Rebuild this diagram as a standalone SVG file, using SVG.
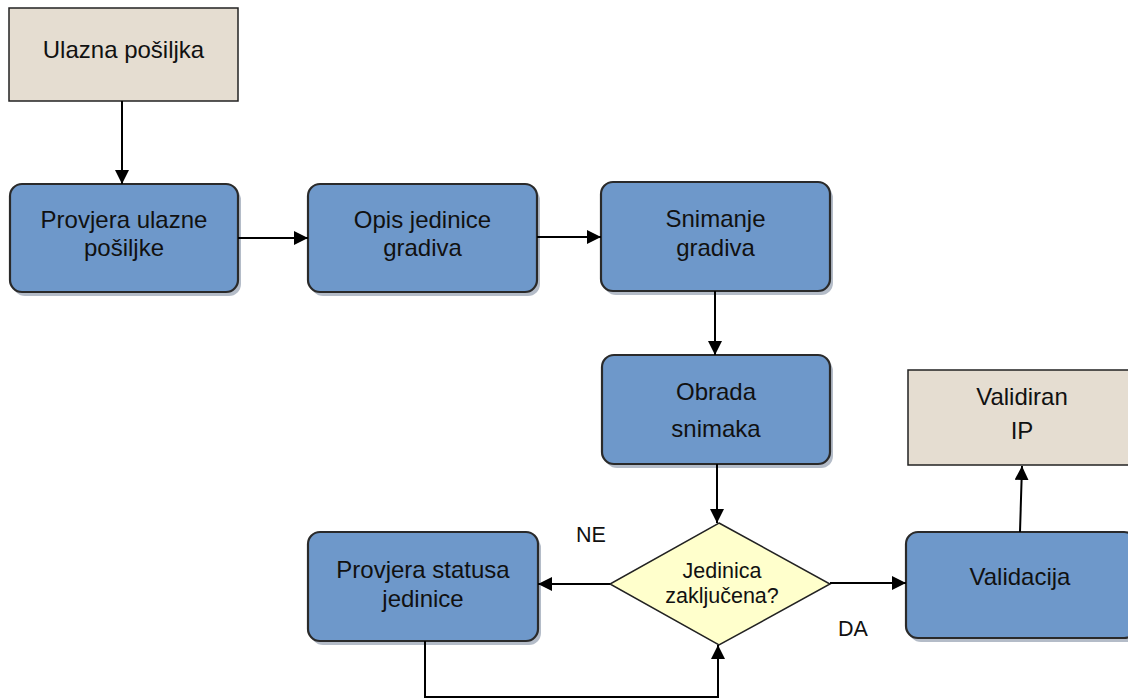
<svg xmlns="http://www.w3.org/2000/svg" width="1128" height="700" viewBox="0 0 1128 700">
  <defs>
    <marker id="arrow" viewBox="0 0 14 14" refX="14" refY="7" markerWidth="14" markerHeight="14" markerUnits="userSpaceOnUse" orient="auto">
      <path d="M0,0 L14,7 L0,14 Z" fill="#000"/>
    </marker>
  </defs>
  <style>
    .doc { fill: #E5DDD1; stroke: #222; stroke-width: 1.5; }
    .proc { fill: #6E98CA; stroke: #2a2a2a; stroke-width: 2.2; }
    .shadow { fill: #B4BCC8; }
    .dec { fill: #FFFFCC; stroke: #222; stroke-width: 1.5; }
    .lbl { font-family: "Liberation Sans", Arial, sans-serif; font-size: 24px; fill: #111; text-anchor: middle; }
    .small { font-size: 21.5px; }
    .conn { fill: none; stroke: #000; stroke-width: 2; marker-end: url(#arrow); }
  </style>
  <rect width="1128" height="700" fill="#fff"/>

  <g id="ulazna">
    <rect class="doc" x="9" y="8" width="229" height="93"/>
    <text class="lbl" x="123.5" y="58">Ulazna pošiljka</text>
  </g>

  <g id="provjera-ulazne">
    <rect class="shadow" x="13" y="188" width="228" height="108" rx="12"/>
    <rect class="proc" x="10" y="184" width="228" height="108" rx="12"/>
    <text class="lbl" x="124" y="228">Provjera ulazne</text>
    <text class="lbl" x="124" y="256">pošiljke</text>
  </g>

  <g id="opis">
    <rect class="shadow" x="311" y="188" width="229" height="108" rx="12"/>
    <rect class="proc" x="308" y="184" width="229" height="108" rx="12"/>
    <text class="lbl" x="422.5" y="228">Opis jedinice</text>
    <text class="lbl" x="422.5" y="256">gradiva</text>
  </g>

  <g id="snimanje">
    <rect class="shadow" x="604" y="186" width="229" height="109" rx="12"/>
    <rect class="proc" x="601" y="182" width="229" height="109" rx="12"/>
    <text class="lbl" x="715.5" y="227">Snimanje</text>
    <text class="lbl" x="715.5" y="256">gradiva</text>
  </g>

  <g id="obrada">
    <rect class="shadow" x="605" y="359" width="228" height="109" rx="12"/>
    <rect class="proc" x="602" y="355" width="228" height="109" rx="12"/>
    <text class="lbl" x="716" y="400">Obrada</text>
    <text class="lbl" x="716" y="437">snimaka</text>
  </g>

  <g id="validiran">
    <rect class="doc" x="908" y="370" width="230" height="95"/>
    <text class="lbl" x="1022" y="405">Validiran</text>
    <text class="lbl" x="1022" y="439">IP</text>
  </g>

  <g id="validacija">
    <rect class="shadow" x="909" y="536" width="230" height="106" rx="12"/>
    <rect class="proc" x="906" y="532" width="230" height="106" rx="12"/>
    <text class="lbl" x="1020" y="585">Validacija</text>
  </g>

  <g id="odluka">
    <path class="dec" d="M719,523 L830,584 L719,645 L610,584 Z"/>
    <text class="lbl small" x="722" y="578">Jedinica</text>
    <text class="lbl small" x="722" y="603">zaključena?</text>
  </g>

  <g id="provjera-statusa">
    <rect class="shadow" x="311" y="536" width="230" height="109" rx="12"/>
    <rect class="proc" x="308" y="532" width="230" height="109" rx="12"/>
    <text class="lbl" x="423" y="578">Provjera statusa</text>
    <text class="lbl" x="423" y="607">jedinice</text>
  </g>

  <g id="connectors">
    <line class="conn" x1="122" y1="101" x2="122" y2="184"/>
    <line class="conn" x1="238" y1="238" x2="308" y2="238"/>
    <line class="conn" x1="537" y1="237" x2="601" y2="237"/>
    <line class="conn" x1="715" y1="291" x2="715" y2="355"/>
    <line class="conn" x1="717" y1="464" x2="717" y2="523"/>
    <line class="conn" x1="610" y1="584" x2="538" y2="584"/>
    <line class="conn" x1="830" y1="583" x2="906" y2="583"/>
    <line class="conn" x1="1020" y1="532" x2="1022" y2="466"/>
    <path class="conn" d="M425,641 L425,697 L718,697 L718,645"/>
    <text class="lbl" style="font-size:21.5px" x="591" y="542">NE</text>
    <text class="lbl" style="font-size:21.5px" x="853" y="636">DA</text>
  </g>
</svg>
